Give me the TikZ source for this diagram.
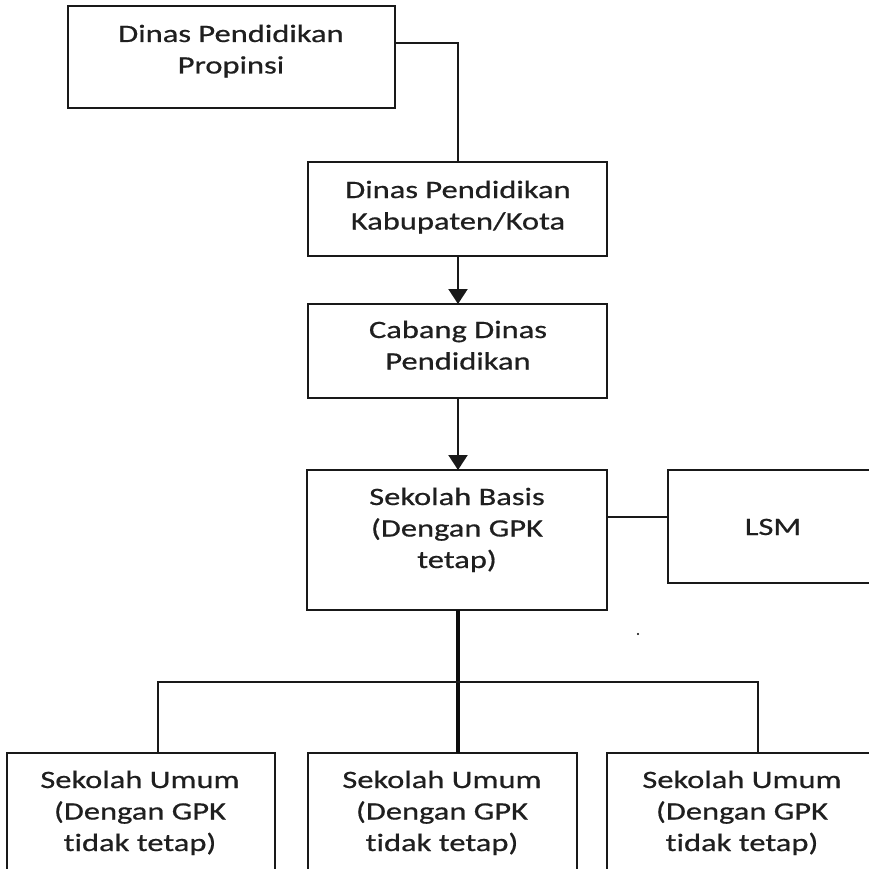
\documentclass[tikz,border=0pt]{standalone}
\usepackage{fontspec}
\setmainfont{Carlito}[FakeStretch=1.3, FakeBold=0.6, Ligatures=NoCommon]
\usetikzlibrary{arrows.meta}

% centred block of lines whose baseline is that of its first line
\newcommand{\boxtext}[1]{\begin{tabular}[t]{@{}c@{}}#1\end{tabular}}

\begin{document}
\begin{tikzpicture}[x=1pt,y=-1pt,
  orgbox/.style={draw=black!90, line width=2.4pt, fill=white, inner sep=0pt,
                 outer sep=0pt, anchor=north west},
  label/.style={anchor=base, inner sep=0pt, text=black!88,
                font=\fontsize{25}{31.5}\selectfont},
  link/.style={draw=black!90, line width=2.8pt},
  heavy/.style={draw=black!95, line width=3.2pt},
  thin/.style={draw=black!90, line width=2.2pt},
  tip/.style={-{Triangle[length=15pt,width=19pt]}}
]
\useasboundingbox (0,0) rectangle (868,869);

% boxes
\node[orgbox, minimum width=327pt, minimum height=102pt] (prov) at (68,6) {};
\node[orgbox, minimum width=299pt, minimum height=94pt]  (kab)  at (308,162) {};
\node[orgbox, minimum width=299pt, minimum height=94pt]  (cab)  at (308,304) {};
\node[orgbox, minimum width=300pt, minimum height=140pt] (basis) at (307,470) {};
\node[orgbox, minimum width=215pt, minimum height=113pt] (lsm)  at (668,470) {};
\node[orgbox, minimum width=268pt, minimum height=140pt] (um1)  at (7,753) {};
\node[orgbox, minimum width=269pt, minimum height=140pt] (um2)  at (308,753) {};
\node[orgbox, minimum width=275pt, minimum height=140pt] (um3)  at (607,753) {};

% texts
\node[label] (tprov)  at (231,42)  {\boxtext{Dinas Pendidikan\\Propinsi}};
\node[label] (tkab)   at (458,198) {\boxtext{Dinas Pendidikan\\Kabupaten/Kota}};
\node[label] (tcab)   at (458,338) {\boxtext{Cabang Dinas\\Pendidikan}};
\node[label] (tbasis) at (457,505) {\boxtext{Sekolah Basis\\(Dengan GPK\\tetap)}};
\node[label] (tlsm)   at (773,535) {LSM};
\node[label] (tum1)   at (140,788) {\boxtext{Sekolah Umum\\(Dengan GPK\\tidak tetap)}};
\node[label] (tum2)   at (442,788) {\boxtext{Sekolah Umum\\(Dengan GPK\\tidak tetap)}};
\node[label] (tum3)   at (742,788) {\boxtext{Sekolah Umum\\(Dengan GPK\\tidak tetap)}};

% guide coordinates for the connectors
\coordinate (spine) at (458,0);
\coordinate (left)  at (158,0);
\coordinate (right) at (758,0);
\coordinate (bus)   at (0,682);
\coordinate (side)  at (0,43);
\coordinate (tie)   at (0,517);

% connectors
\draw[link] (prov.east |- side) -- (spine |- side) -- (kab.north -| spine);
\draw[thin, tip] (kab.south -| spine) -- (cab.north -| spine);
\draw[thin, tip] (cab.south -| spine) -- (basis.north -| spine);
\draw[link] (basis.east |- tie) -- (lsm.west |- tie);
\draw[heavy] (basis.south -| spine) -- (um2.north -| spine);
\draw[thin] (um1.north -| left) -- (left |- bus) -- (right |- bus) -- (um3.north -| right);

% small speck of ink
\fill[black] (638,634) circle (1.1pt);
\end{tikzpicture}
\end{document}
